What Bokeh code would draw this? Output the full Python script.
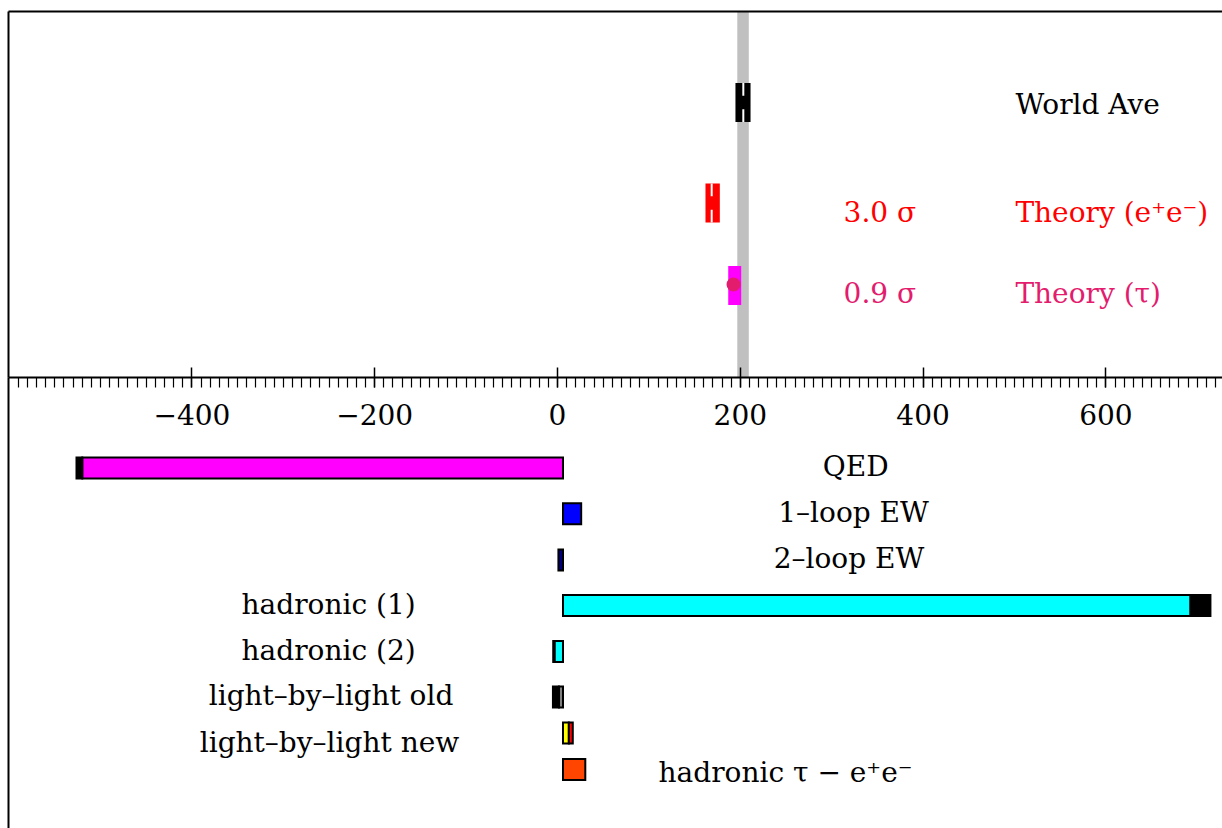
from bokeh.plotting import figure
from bokeh.layouts import column
from bokeh.models import Range1d, LinearAxis, FixedTicker, BoxAnnotation, ColumnDataSource
from bokeh.core.properties import value
from bokeh.embed import file_html
from bokeh.resources import INLINE

# ---------------- data ----------------
top_labels = ["World Ave", "Theory (e\u207ae\u207b)", "Theory (\u03c4)"]
top_sigma = ["", "3.0 \u03c3", "0.9 \u03c3"]
top_center = [203.3, 168.7, 192.6]
top_lo = [194.7, 161.9, 186.8]
top_hi = [211.2, 177.6, 201.0]
world_ave = 203.0
world_err = 6.3

contrib_labels = ["QED", "1\u2013loop EW", "2\u2013loop EW", "hadronic (1)", "hadronic (2)",
                  "light\u2013by\u2013light old", "light\u2013by\u2013light new",
                  "hadronic \u03c4 \u2212 e\u207ae\u207b"]
contrib_base = 6.0
contrib_value = [-520.0, 25.9, 1.0, 692.6, -3.3, 1.5, 12.4, 30.4]
contrib_err_end = [-526.3, 25.9, 1.0, 714.4, -4.7, -5.0, 16.7, 30.4]

x_ticks = [-400, -200, 0, 200, 400, 600]
x_minor = list(range(-590, 730, 10))
x_min, x_max = -600.7, 727.6

# ---------------- styles / layout ----------------
FONT = "DejaVu Serif"
FS = "28px"
W = 1222
H_TOP = 438
H_BOT = 451
OVERLAP = 61
top_colors = ["black", "#ff0000", "#ff00ff"]
top_text_colors = ["black", "#ff0000", "#e31c6e"]
top_gap = [True, True, False]
top_rows = [91.0, 191.5, 274.0]
top_text_y = [93.0, 201.0, 282.0]
top_half_h = 19.5
label_x_top = 501.0
sigma_x_top = 313.0

contrib_colors = ["#ff00ff", "#0000ff", "#000080", "#00ffff", "#00ffff",
                  "#808080", "#ffff00", "#ff4500"]
err_colors = ["black", "black", "black", "black", "black", "black", "#ff0000", "black"]
bot_rows = [90.5, 136.3, 182.5, 228.0, 274.0, 319.5, 355.5, 392.0]
bot_text_y = [89.0, 135.0, 181.0, 227.0, 273.0, 318.0, 365.0, 395.0]
bot_label_x = [326.3, 323.9, 318.9, -250.5, -250.5, -247.8, -249.5, 249.5]
bar_half_h = 10.5

xr = Range1d(x_min, x_max)

# ---------------- top panel ----------------
p1 = figure(width=W, height=H_TOP, x_range=xr, y_range=Range1d(366, 0),
            output_backend="svg", toolbar_location=None,
            x_axis_type=None, y_axis_type=None,
            min_border_left=8, min_border_right=0, min_border_top=11,
            min_border_bottom=H_TOP - 11 - 366)
p1.outline_line_color = None
p1.background_fill_color = "white"
p1.border_fill_color = "white"


def border_axis():
    return LinearAxis(ticker=FixedTicker(ticks=[]), major_tick_in=0, major_tick_out=0,
                      minor_tick_in=0, minor_tick_out=0, major_label_standoff=0,
                      major_label_text_font_size="0px", axis_line_width=2,
                      axis_line_color="black")


p1.add_layout(border_axis(), "above")
p1.add_layout(border_axis(), "left")

xaxis = LinearAxis(ticker=FixedTicker(ticks=x_ticks, minor_ticks=x_minor),
                   major_tick_in=10, major_tick_out=10, minor_tick_in=0, minor_tick_out=10,
                   axis_line_width=2, major_tick_line_width=1.5, minor_tick_line_width=1.2,
                   major_label_text_font=FONT, major_label_text_font_size=FS,
                   major_label_text_color="black", major_label_standoff=16,
                   major_label_overrides={t: ("\u2212" + str(-t) if t < 0 else str(t)) for t in x_ticks})
p1.add_layout(xaxis, "below")

band = BoxAnnotation(left=world_ave - world_err, right=world_ave + world_err,
                     fill_color="#c0c0c0", fill_alpha=1.0, line_color=None, level="underlay")
p1.add_layout(band)

p1.quad(left=top_lo, right=top_hi,
        top=[y - top_half_h for y in top_rows], bottom=[y + top_half_h for y in top_rows],
        fill_color=top_colors, line_color=None)

gx, gy0, gy1 = [], [], []
for c, y, g in zip(top_center, top_rows, top_gap):
    if g:
        h = 2 * top_half_h * 0.33
        gx += [c, c]
        gy0 += [y - top_half_h, y + top_half_h - h]
        gy1 += [y - top_half_h + h, y + top_half_h]
p1.segment(x0=gx, x1=gx, y0=gy0, y1=gy1, line_color="white", line_width=2)

p1.scatter(x=[top_center[2]], y=[top_rows[2] - 1], size=14, color="#e31c6e", line_color=None)

p1.text(x=[label_x_top] * 3, y=top_text_y, text=top_labels, text_color=top_text_colors,
        text_font=value(FONT), text_font_size=FS, text_baseline="alphabetic", text_align="left")
sig_idx = [i for i, s in enumerate(top_sigma) if s]
p1.text(x=[sigma_x_top] * len(sig_idx), y=[top_text_y[i] for i in sig_idx],
        text=[top_sigma[i] for i in sig_idx], text_color=[top_text_colors[i] for i in sig_idx],
        text_font=value(FONT), text_font_size=FS, text_baseline="alphabetic", text_align="left")

# ---------------- bottom panel (overlaps the tick-label strip, transparent) ----------------
p2 = figure(width=W, height=H_BOT, x_range=xr, y_range=Range1d(H_BOT, 0),
            output_backend="svg", toolbar_location=None,
            x_axis_type=None, y_axis_type=None,
            min_border_left=8, min_border_right=0, min_border_top=0, min_border_bottom=0)
p2.outline_line_color = None
p2.background_fill_color = None
p2.border_fill_color = None
p2.margin = (-OVERLAP, 0, 0, 0)
p2.add_layout(border_axis(), "left")

src_col = ColumnDataSource(dict(
    left=[min(contrib_base, v) for v in contrib_value],
    right=[max(contrib_base, v) for v in contrib_value],
    top=[y - bar_half_h for y in bot_rows],
    bottom=[y + bar_half_h for y in bot_rows],
    color=contrib_colors))
p2.quad(left="left", right="right", top="top", bottom="bottom", fill_color="color",
        line_color="black", line_width=2, line_join="miter", source=src_col)

ei = [i for i in range(len(contrib_value)) if contrib_err_end[i] != contrib_value[i]]
src_err = ColumnDataSource(dict(
    left=[min(contrib_value[i], contrib_err_end[i]) for i in ei],
    right=[max(contrib_value[i], contrib_err_end[i]) for i in ei],
    top=[bot_rows[i] - bar_half_h for i in ei],
    bottom=[bot_rows[i] + bar_half_h for i in ei],
    color=[err_colors[i] for i in ei]))
p2.quad(left="left", right="right", top="top", bottom="bottom", fill_color="color",
        line_color="black", line_width=2, line_join="miter", source=src_err)

p2.text(x=bot_label_x, y=bot_text_y, text=contrib_labels, text_color="black",
        text_font=value(FONT), text_font_size=FS, text_baseline="alphabetic", text_align="center")

layout = column(p1, p2, spacing=0)
open("out.html", "w").write(file_html(layout, INLINE))
